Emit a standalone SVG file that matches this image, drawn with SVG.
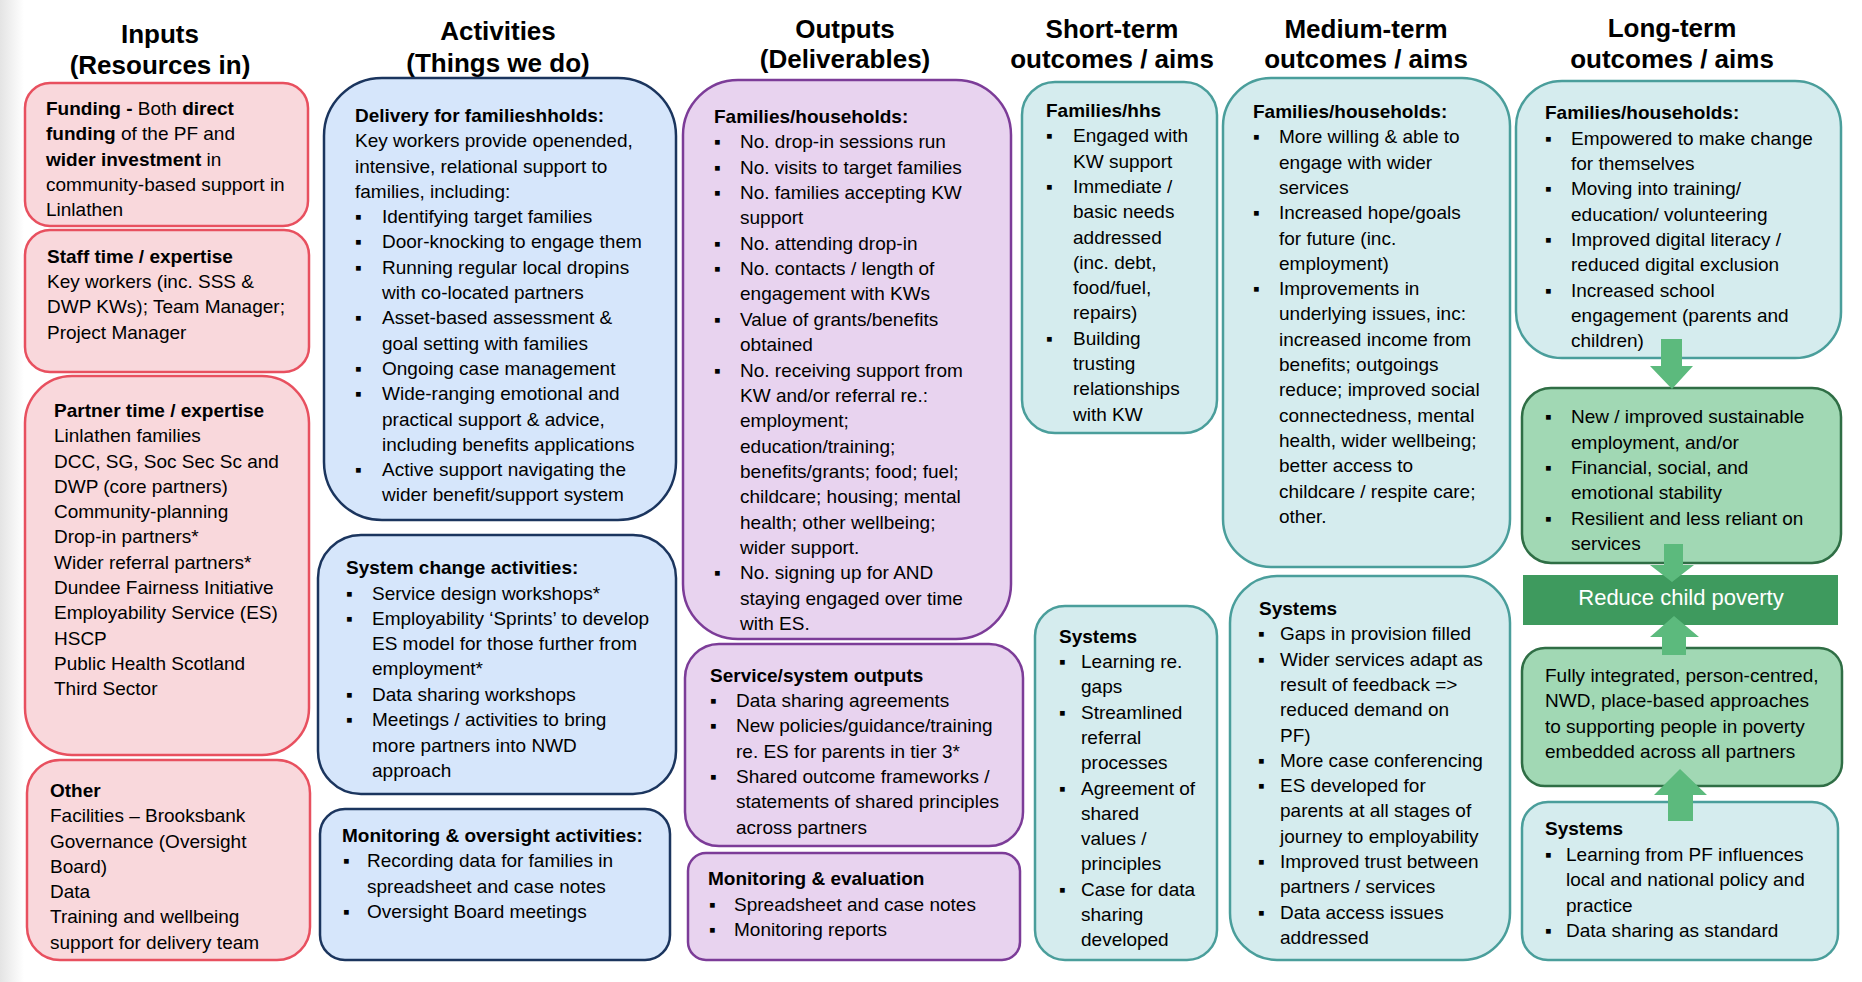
<svg xmlns="http://www.w3.org/2000/svg" width="1862" height="982" viewBox="0 0 1862 982">
<defs>
<linearGradient id="edge" x1="0" y1="0" x2="1" y2="0">
<stop offset="0" stop-color="#e4e4e4"/>
<stop offset="1" stop-color="#ffffff"/>
</linearGradient>
<style>
.t{font-family:"Liberation Sans",Arial,sans-serif;font-size:19px;fill:#000}
.b{font-weight:bold}
.h{font-family:"Liberation Sans",Arial,sans-serif;font-size:26px;font-weight:bold;text-anchor:middle;fill:#000}
.pk{fill:#f9d8dc;stroke:#e8505f;stroke-width:2.5}
.bl{fill:#d6e6fb;stroke:#1b355e;stroke-width:2.5}
.pu{fill:#e8d3ef;stroke:#7c3c98;stroke-width:2.5}
.te{fill:#d5ecee;stroke:#4a9e9b;stroke-width:2.5}
.gr{fill:#a1d8b4;stroke:#2f6e45;stroke-width:2.5}
.ar{fill:#5cba7d}
.bar{fill:#3e9a5e}
.w{font-family:"Liberation Sans",Arial,sans-serif;font-size:22px;fill:#fff;text-anchor:middle}
</style>
</defs>
<rect width="1862" height="982" fill="#fff"/>
<rect width="24" height="982" fill="url(#edge)"/>

<g id="headers">
<text class="h"><tspan x="160" y="43">Inputs</tspan><tspan x="160" y="74">(Resources in)</tspan></text>
<text class="h"><tspan x="498" y="40">Activities</tspan><tspan x="498" y="72">(Things we do)</tspan></text>
<text class="h"><tspan x="845" y="38">Outputs</tspan><tspan x="845" y="68">(Deliverables)</tspan></text>
<text class="h"><tspan x="1112" y="38">Short-term</tspan><tspan x="1112" y="68">outcomes / aims</tspan></text>
<text class="h"><tspan x="1366" y="38">Medium-term</tspan><tspan x="1366" y="68">outcomes / aims</tspan></text>
<text class="h"><tspan x="1672" y="37">Long-term</tspan><tspan x="1672" y="68">outcomes / aims</tspan></text>
</g>

<g id="in-funding">
<rect class="pk" x="25" y="83" width="283" height="143" rx="25"/>
<text class="t">
<tspan x="46" y="115" class="b">Funding -</tspan><tspan> Both </tspan><tspan class="b">direct</tspan>
<tspan x="46" y="140" class="b">funding</tspan><tspan> of the PF and</tspan>
<tspan x="46" y="166" class="b">wider investment</tspan><tspan> in</tspan>
<tspan x="46" y="191">community-based support in</tspan>
<tspan x="46" y="216">Linlathen</tspan>
</text>
</g>

<g id="in-staff">
<rect class="pk" x="25" y="230" width="284" height="142" rx="25"/>
<text class="t">
<tspan x="47" y="263" class="b">Staff time / expertise</tspan>
<tspan x="47" y="288">Key workers (inc. SSS &amp;</tspan>
<tspan x="47" y="313">DWP KWs); Team Manager;</tspan>
<tspan x="47" y="339">Project Manager</tspan>
</text>
</g>

<g id="in-partner">
<rect class="pk" x="25" y="376" width="284" height="379" rx="47"/>
<text class="t">
<tspan x="54" y="417" class="b">Partner time / expertise</tspan>
<tspan x="54" y="442">Linlathen families</tspan>
<tspan x="54" y="468">DCC, SG, Soc Sec Sc and</tspan>
<tspan x="54" y="493">DWP (core partners)</tspan>
<tspan x="54" y="518">Community-planning</tspan>
<tspan x="54" y="543">Drop-in partners*</tspan>
<tspan x="54" y="569">Wider referral partners*</tspan>
<tspan x="54" y="594">Dundee Fairness Initiative</tspan>
<tspan x="54" y="619">Employability Service (ES)</tspan>
<tspan x="54" y="645">HSCP</tspan>
<tspan x="54" y="670">Public Health Scotland</tspan>
<tspan x="54" y="695">Third Sector</tspan>
</text>
</g>

<g id="in-other">
<rect class="pk" x="27" y="760" width="283" height="200" rx="33"/>
<text class="t">
<tspan x="50" y="797" class="b">Other</tspan>
<tspan x="50" y="822">Facilities – Brooksbank</tspan>
<tspan x="50" y="848">Governance (Oversight</tspan>
<tspan x="50" y="873">Board)</tspan>
<tspan x="50" y="898">Data</tspan>
<tspan x="50" y="923">Training and wellbeing</tspan>
<tspan x="50" y="949">support for delivery team</tspan>
</text>
</g>

<g id="act-delivery">
<rect class="bl" x="324" y="78" width="352" height="442" rx="58"/>
<text class="t">
<tspan x="355" y="122" class="b">Delivery for familieshholds:</tspan>
<tspan x="355" y="147">Key workers provide openended,</tspan>
<tspan x="355" y="173">intensive, relational support to</tspan>
<tspan x="355" y="198">families, including:</tspan>
<tspan x="355" y="223">▪</tspan><tspan x="382">Identifying target families</tspan>
<tspan x="355" y="248">▪</tspan><tspan x="382">Door-knocking to engage them</tspan>
<tspan x="355" y="274">▪</tspan><tspan x="382">Running regular local dropins</tspan>
<tspan x="382" y="299">with co-located partners</tspan>
<tspan x="355" y="324">▪</tspan><tspan x="382">Asset-based assessment &amp;</tspan>
<tspan x="382" y="350">goal setting with families</tspan>
<tspan x="355" y="375">▪</tspan><tspan x="382">Ongoing case management</tspan>
<tspan x="355" y="400">▪</tspan><tspan x="382">Wide-ranging emotional and</tspan>
<tspan x="382" y="426">practical support &amp; advice,</tspan>
<tspan x="382" y="451">including benefits applications</tspan>
<tspan x="355" y="476">▪</tspan><tspan x="382">Active support navigating the</tspan>
<tspan x="382" y="501">wider benefit/support system</tspan>
</text>
</g>

<g id="act-system">
<rect class="bl" x="318" y="535" width="358" height="259" rx="43"/>
<text class="t">
<tspan x="346" y="574" class="b">System change activities:</tspan>
<tspan x="346" y="600">▪</tspan><tspan x="372">Service design workshops*</tspan>
<tspan x="346" y="625">▪</tspan><tspan x="372">Employability ‘Sprints’ to develop</tspan>
<tspan x="372" y="650">ES model for those further from</tspan>
<tspan x="372" y="675">employment*</tspan>
<tspan x="346" y="701">▪</tspan><tspan x="372">Data sharing workshops</tspan>
<tspan x="346" y="726">▪</tspan><tspan x="372">Meetings / activities to bring</tspan>
<tspan x="372" y="752">more partners into NWD</tspan>
<tspan x="372" y="777">approach</tspan>
</text>
</g>

<g id="act-monitoring">
<rect class="bl" x="320" y="809" width="350" height="151" rx="25"/>
<text class="t">
<tspan x="342" y="842" class="b">Monitoring &amp; oversight activities:</tspan>
<tspan x="343" y="867">▪</tspan><tspan x="367">Recording data for families in</tspan>
<tspan x="367" y="893">spreadsheet and case notes</tspan>
<tspan x="343" y="918">▪</tspan><tspan x="367">Oversight Board meetings</tspan>
</text>
</g>

<g id="out-families">
<rect class="pu" x="683" y="80" width="328" height="559" rx="55"/>
<text class="t">
<tspan x="714" y="123" class="b">Families/households:</tspan>
<tspan x="714" y="148">▪</tspan><tspan x="740">No. drop-in sessions run</tspan>
<tspan x="714" y="174">▪</tspan><tspan x="740">No. visits to target families</tspan>
<tspan x="714" y="199">▪</tspan><tspan x="740">No. families accepting KW</tspan>
<tspan x="740" y="224">support</tspan>
<tspan x="714" y="250">▪</tspan><tspan x="740">No. attending drop-in</tspan>
<tspan x="714" y="275">▪</tspan><tspan x="740">No. contacts / length of</tspan>
<tspan x="740" y="300">engagement with KWs</tspan>
<tspan x="714" y="326">▪</tspan><tspan x="740">Value of grants/benefits</tspan>
<tspan x="740" y="351">obtained</tspan>
<tspan x="714" y="377">▪</tspan><tspan x="740">No. receiving support from</tspan>
<tspan x="740" y="402">KW and/or referral re.:</tspan>
<tspan x="740" y="427">employment;</tspan>
<tspan x="740" y="453">education/training;</tspan>
<tspan x="740" y="478">benefits/grants; food; fuel;</tspan>
<tspan x="740" y="503">childcare; housing; mental</tspan>
<tspan x="740" y="529">health; other wellbeing;</tspan>
<tspan x="740" y="554">wider support.</tspan>
<tspan x="714" y="579">▪</tspan><tspan x="740">No. signing up for AND</tspan>
<tspan x="740" y="605">staying engaged over time</tspan>
<tspan x="740" y="630">with ES.</tspan>
</text>
</g>

<g id="out-service">
<rect class="pu" x="685" y="644" width="338" height="202" rx="34"/>
<text class="t">
<tspan x="710" y="682" class="b">Service/system outputs</tspan>
<tspan x="710" y="707">▪</tspan><tspan x="736">Data sharing agreements</tspan>
<tspan x="710" y="732">▪</tspan><tspan x="736">New policies/guidance/training</tspan>
<tspan x="736" y="758">re. ES for parents in tier 3*</tspan>
<tspan x="710" y="783">▪</tspan><tspan x="736">Shared outcome frameworks /</tspan>
<tspan x="736" y="808">statements of shared principles</tspan>
<tspan x="736" y="834">across partners</tspan>
</text>
</g>

<g id="out-monitoring">
<rect class="pu" x="688" y="853" width="332" height="107" rx="18"/>
<text class="t">
<tspan x="708" y="885" class="b">Monitoring &amp; evaluation</tspan>
<tspan x="709" y="911">▪</tspan><tspan x="734">Spreadsheet and case notes</tspan>
<tspan x="709" y="936">▪</tspan><tspan x="734">Monitoring reports</tspan>
</text>
</g>

<g id="short-families">
<rect class="te" x="1022" y="82" width="195" height="351" rx="33"/>
<text class="t">
<tspan x="1046" y="117" class="b">Families/hhs</tspan>
<tspan x="1046" y="142">▪</tspan><tspan x="1073">Engaged with</tspan>
<tspan x="1073" y="168">KW support</tspan>
<tspan x="1046" y="193">▪</tspan><tspan x="1073">Immediate /</tspan>
<tspan x="1073" y="218">basic needs</tspan>
<tspan x="1073" y="244">addressed</tspan>
<tspan x="1073" y="269">(inc. debt,</tspan>
<tspan x="1073" y="294">food/fuel,</tspan>
<tspan x="1073" y="319">repairs)</tspan>
<tspan x="1046" y="345">▪</tspan><tspan x="1073">Building</tspan>
<tspan x="1073" y="370">trusting</tspan>
<tspan x="1073" y="395">relationships</tspan>
<tspan x="1073" y="421">with KW</tspan>
</text>
</g>

<g id="short-systems">
<rect class="te" x="1035" y="606" width="182" height="354" rx="30"/>
<text class="t">
<tspan x="1059" y="643" class="b">Systems</tspan>
<tspan x="1059" y="668">▪</tspan><tspan x="1081">Learning re.</tspan>
<tspan x="1081" y="693">gaps</tspan>
<tspan x="1059" y="719">▪</tspan><tspan x="1081">Streamlined</tspan>
<tspan x="1081" y="744">referral</tspan>
<tspan x="1081" y="769">processes</tspan>
<tspan x="1059" y="795">▪</tspan><tspan x="1081">Agreement of</tspan>
<tspan x="1081" y="820">shared</tspan>
<tspan x="1081" y="845">values /</tspan>
<tspan x="1081" y="870">principles</tspan>
<tspan x="1059" y="896">▪</tspan><tspan x="1081">Case for data</tspan>
<tspan x="1081" y="921">sharing</tspan>
<tspan x="1081" y="946">developed</tspan>
</text>
</g>

<g id="med-families">
<rect class="te" x="1223" y="78" width="287" height="489" rx="48"/>
<text class="t">
<tspan x="1253" y="118" class="b">Families/households:</tspan>
<tspan x="1253" y="143">▪</tspan><tspan x="1279">More willing &amp; able to</tspan>
<tspan x="1279" y="169">engage with wider</tspan>
<tspan x="1279" y="194">services</tspan>
<tspan x="1253" y="219">▪</tspan><tspan x="1279">Increased hope/goals</tspan>
<tspan x="1279" y="245">for future (inc.</tspan>
<tspan x="1279" y="270">employment)</tspan>
<tspan x="1253" y="295">▪</tspan><tspan x="1279">Improvements in</tspan>
<tspan x="1279" y="320">underlying issues, inc:</tspan>
<tspan x="1279" y="346">increased income from</tspan>
<tspan x="1279" y="371">benefits; outgoings</tspan>
<tspan x="1279" y="396">reduce; improved social</tspan>
<tspan x="1279" y="422">connectedness, mental</tspan>
<tspan x="1279" y="447">health, wider wellbeing;</tspan>
<tspan x="1279" y="472">better access to</tspan>
<tspan x="1279" y="498">childcare / respite care;</tspan>
<tspan x="1279" y="523">other.</tspan>
</text>
</g>

<g id="med-systems">
<rect class="te" x="1230" y="576" width="280" height="384" rx="47"/>
<text class="t">
<tspan x="1259" y="615" class="b">Systems</tspan>
<tspan x="1258" y="640">▪</tspan><tspan x="1280">Gaps in provision filled</tspan>
<tspan x="1258" y="666">▪</tspan><tspan x="1280">Wider services adapt as</tspan>
<tspan x="1280" y="691">result of feedback =&gt;</tspan>
<tspan x="1280" y="716">reduced demand on</tspan>
<tspan x="1280" y="742">PF)</tspan>
<tspan x="1258" y="767">▪</tspan><tspan x="1280">More case conferencing</tspan>
<tspan x="1258" y="792">▪</tspan><tspan x="1280">ES developed for</tspan>
<tspan x="1280" y="817">parents at all stages of</tspan>
<tspan x="1280" y="843">journey to employability</tspan>
<tspan x="1258" y="868">▪</tspan><tspan x="1280">Improved trust between</tspan>
<tspan x="1280" y="893">partners / services</tspan>
<tspan x="1258" y="919">▪</tspan><tspan x="1280">Data access issues</tspan>
<tspan x="1280" y="944">addressed</tspan>
</text>
</g>

<g id="long-families">
<rect class="te" x="1516" y="81" width="325" height="277" rx="46"/>
<text class="t">
<tspan x="1545" y="119" class="b">Families/households:</tspan>
<tspan x="1545" y="145">▪</tspan><tspan x="1571">Empowered to make change</tspan>
<tspan x="1571" y="170">for themselves</tspan>
<tspan x="1545" y="195">▪</tspan><tspan x="1571">Moving into training/</tspan>
<tspan x="1571" y="221">education/ volunteering</tspan>
<tspan x="1545" y="246">▪</tspan><tspan x="1571">Improved digital literacy /</tspan>
<tspan x="1571" y="271">reduced digital exclusion</tspan>
<tspan x="1545" y="297">▪</tspan><tspan x="1571">Increased school</tspan>
<tspan x="1571" y="322">engagement (parents and</tspan>
<tspan x="1571" y="347">children)</tspan>
</text>
</g>

<g id="long-stability">
<rect class="gr" x="1522" y="388" width="319" height="175" rx="29"/>
<text class="t">
<tspan x="1545" y="423">▪</tspan><tspan x="1571">New / improved sustainable</tspan>
<tspan x="1571" y="449">employment, and/or</tspan>
<tspan x="1545" y="474">▪</tspan><tspan x="1571">Financial, social, and</tspan>
<tspan x="1571" y="499">emotional stability</tspan>
<tspan x="1545" y="525">▪</tspan><tspan x="1571">Resilient and less reliant on</tspan>
<tspan x="1571" y="550">services</tspan>
</text>
</g>

<g id="goal">
<rect class="bar" x="1523" y="575" width="315" height="50"/>
<text class="w" x="1681" y="605">Reduce child poverty</text>
</g>

<g id="long-integrated">
<rect class="gr" x="1522" y="648" width="320" height="138" rx="23"/>
<text class="t">
<tspan x="1545" y="682">Fully integrated, person-centred,</tspan>
<tspan x="1545" y="707">NWD, place-based approaches</tspan>
<tspan x="1545" y="733">to supporting people in poverty</tspan>
<tspan x="1545" y="758">embedded across all partners</tspan>
</text>
</g>

<g id="long-systems">
<rect class="te" x="1522" y="802" width="316" height="158" rx="26"/>
<text class="t">
<tspan x="1545" y="835" class="b">Systems</tspan>
<tspan x="1545" y="861">▪</tspan><tspan x="1566">Learning from PF influences</tspan>
<tspan x="1566" y="886">local and national policy and</tspan>
<tspan x="1566" y="912">practice</tspan>
<tspan x="1545" y="937">▪</tspan><tspan x="1566">Data sharing as standard</tspan>
</text>
</g>

<g id="connectors">
<polygon class="ar" points="1661,339 1682,339 1682,366 1693,366 1672,389 1650,366 1661,366"/>
<polygon class="ar" points="1664,544 1683,544 1683,565 1694,565 1672,582 1650,565 1664,565"/>
<polygon class="ar" points="1674,616 1699,637 1686,637 1686,655 1662,655 1662,637 1650,637"/>
<polygon class="ar" points="1680,769 1707,795 1693,795 1693,821 1668,821 1668,795 1654,795"/>
</g>
</svg>
